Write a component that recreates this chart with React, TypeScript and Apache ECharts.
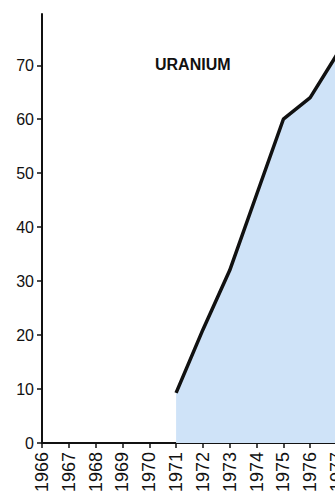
import React, { useEffect, useRef } from "react";
import * as echarts from "echarts";

const years = ["1966", "1967", "1968", "1969", "1970", "1971", "1972", "1973", "1974", "1975", "1976", "1977"];
const uranium: (number | null)[] = [null, null, null, null, null, 9.3, 21, 32, 46, 60, 64, 72];
const yTicks = [0, 10, 20, 30, 40, 50, 60, 70];
const title = "URANIUM";

export default function App() {
  const ref = useRef<HTMLDivElement>(null);
  useEffect(() => {
    if (!ref.current) return;
    const chart = echarts.init(ref.current, null, { renderer: "svg" });
    chart.setOption({
      animation: false,
      backgroundColor: "#ffffff",
      title: {
        text: title,
        left: 150,
        top: 51,
        textStyle: { fontFamily: "Liberation Sans", fontWeight: "bold", fontSize: 16, color: "#111" },
      },
      grid: { left: 42, right: -2, top: 14, bottom: 48, containLabel: false, outerBoundsMode: "none" },
      xAxis: {
        type: "category",
        data: years,
        boundaryGap: false,
        axisLine: { lineStyle: { color: "#111", width: 2 } },
        axisTick: { show: true, length: 5, alignWithLabel: true, lineStyle: { color: "#111", width: 1.5 } },
        axisLabel: { rotate: 90, margin: 9, fontSize: 18, color: "#111", fontFamily: "Liberation Sans", interval: 0, hideOverlap: false },
        splitLine: { show: false },
      },
      yAxis: {
        type: "value",
        min: 0,
        max: 79.5,
        interval: 10,
        axisLine: { show: true, lineStyle: { color: "#111", width: 2 } },
        axisTick: { show: true, length: 5, customValues: yTicks, lineStyle: { color: "#111", width: 1.5 } },
        axisLabel: { customValues: yTicks, margin: 8, fontSize: 16, color: "#111", fontFamily: "Liberation Sans" },
        splitLine: { show: false },
      },
      series: [
        {
          type: "line",
          data: uranium,
          symbol: "none",
          connectNulls: false,
          lineStyle: { color: "#111", width: 3.5 },
          areaStyle: { color: "#cfe3f8", opacity: 1 },
          z: 2,
        },
      ],
    });
    return () => chart.dispose();
  }, []);
  return <div ref={ref} style={{ position: "absolute", left: 0, top: 0, width: 335, height: 491 }} />;
}
